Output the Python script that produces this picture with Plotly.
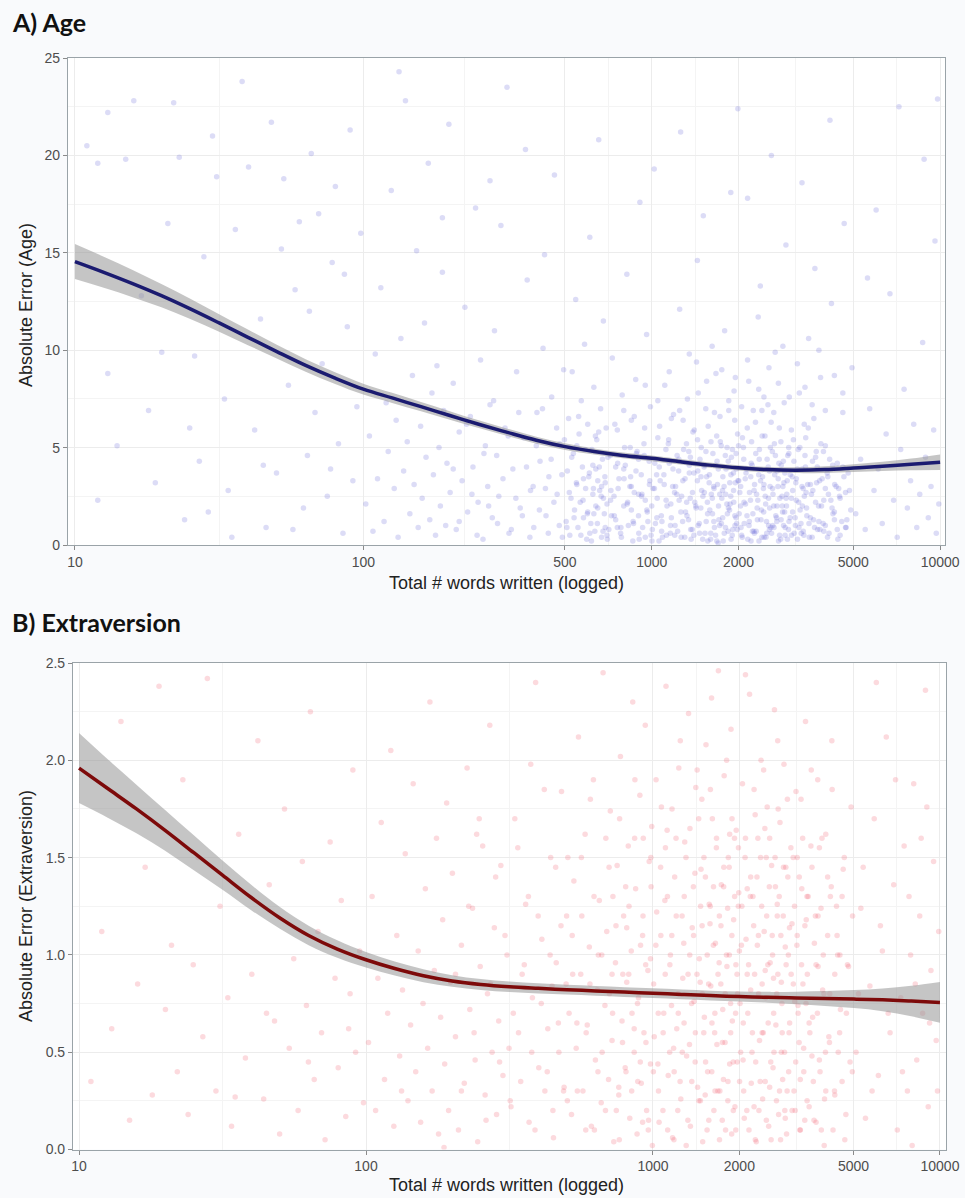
import numpy as np
import plotly.graph_objects as go

# ---------------- data ----------------
# smooth-curve grid (total words written)
curve_words = [10, 12.59, 15.85, 19.95, 25.12, 31.62, 39.81, 50.12, 63.1, 79.43, 100, 125.9, 158.5,
               199.5, 251.2, 316.2, 398.1, 501.2, 631, 794.3, 1000, 1259, 1585, 1995, 2512, 3162,
               3981, 5012, 6310, 7943, 10000]

age_fit = [14.55, 14.0, 13.42, 12.8, 12.12, 11.4, 10.66, 9.93, 9.22, 8.58, 8.0, 7.55, 7.1, 6.65,
           6.2, 5.78, 5.38, 5.05, 4.8, 4.6, 4.45, 4.27, 4.1, 3.96, 3.87, 3.84, 3.87, 3.95, 4.04,
           4.14, 4.25]
age_ci = [0.9, 0.8, 0.7, 0.6, 0.52, 0.45, 0.4, 0.35, 0.32, 0.3, 0.28, 0.26, 0.24, 0.22, 0.2, 0.19,
          0.18, 0.17, 0.16, 0.15, 0.15, 0.14, 0.14, 0.14, 0.14, 0.15, 0.17, 0.2, 0.24, 0.3, 0.4]

ext_fit = [1.96, 1.855, 1.75, 1.64, 1.525, 1.41, 1.295, 1.19, 1.1, 1.03, 0.975, 0.93, 0.893,
           0.866, 0.848, 0.836, 0.828, 0.821, 0.815, 0.809, 0.803, 0.797, 0.791, 0.786, 0.782,
           0.779, 0.776, 0.773, 0.769, 0.763, 0.756]
ext_ci = [0.18, 0.15, 0.125, 0.105, 0.09, 0.075, 0.065, 0.056, 0.05, 0.045, 0.04, 0.036, 0.033,
          0.03, 0.028, 0.027, 0.026, 0.025, 0.025, 0.025, 0.025, 0.025, 0.025, 0.026, 0.028, 0.032,
          0.038, 0.046, 0.058, 0.078, 0.105]

# scatter points (words, absolute error)
age_points = [
    (11,20.5),(12,19.6),(13,22.2),(15,19.8),(16,22.8),(13,8.8),(14,5.1),(12,2.3),(17,12.8),(18,6.9),
    (19,3.2),(21,16.5),(22,22.7),(23,19.9),(24,1.3),(26,9.7),(27,4.3),(28,14.8),(30,21.0),(31,18.9),
    (33,7.5),(34,2.8),(36,16.2),(38,23.8),(40,19.4),(42,5.9),(44,11.6),(46,0.9),(48,21.7),(50,3.7),
    (53,18.8),(55,8.2),(58,13.1),(60,16.6),(62,1.9),(64,4.6),(66,20.1),(68,6.8),(70,17.0),(72,9.3),
    (75,2.5),(78,14.5),(80,18.4),(82,5.2),(85,0.6),(88,11.2),(90,21.3),(92,3.3),(95,7.1),(98,16.0),
    (35,0.4),(57,0.8),(77,3.9),(25,6.0),(45,4.1),(65,12.0),(86,13.9),(20,9.9),(29,1.7),(52,15.2),
    (102,2.1),(105,5.6),(108,0.7),(110,9.8),(112,3.4),(115,13.2),(118,1.2),(120,7.3),(122,4.8),(125,18.2),
    (128,2.9),(130,6.4),(132,0.4),(135,10.6),(138,3.8),(140,22.8),(142,5.3),(145,1.6),(148,8.7),(150,3.1),
    (153,15.1),(155,0.9),(158,6.1),(160,2.4),(163,11.4),(165,4.5),(168,19.6),(170,1.3),(173,7.8),(175,3.6),
    (178,0.5),(180,9.2),(183,5.0),(185,2.0),(188,14.0),(190,6.9),(193,1.0),(195,4.2),(198,21.6),(200,2.7),
    (205,8.3),(210,0.8),(215,5.8),(220,3.3),(225,12.2),(230,1.7),(235,6.6),(240,4.0),(245,17.3),(250,2.2),
    (255,9.5),(260,0.3),(265,5.1),(270,3.0),(275,7.2),(280,1.4),(285,11.0),(290,4.6),(295,2.5),(300,16.4),
    (310,6.0),(320,0.6),(330,3.9),(340,8.9),(350,1.9),(360,5.5),(370,13.6),(380,2.8),(390,0.9),(400,6.8),
    (410,4.3),(420,10.1),(430,1.5),(440,3.5),(450,7.6),(460,19.0),(470,2.6),(480,5.2),(490,0.4),(495,9.0),
    (315,23.5),(365,20.3),(425,14.9),(188,16.8),(275,18.7),(133,24.3),
    (505,1.2),(510,3.8),(515,6.5),(520,0.5),(525,2.4),(530,8.9),(535,4.7),(540,1.8),(545,12.6),(550,3.1),
    (555,0.9),(560,5.7),(565,2.2),(570,7.4),(575,4.0),(580,1.4),(585,10.3),(590,2.9),(595,0.3),(600,6.2),
    (605,3.5),(610,15.8),(615,1.1),(620,4.9),(625,2.6),(630,8.1),(635,0.7),(640,3.9),(645,5.4),(650,1.9),
    (655,20.8),(660,2.8),(665,7.0),(670,0.4),(675,4.4),(680,11.5),(685,1.6),(690,3.2),(695,6.0),(700,2.1),
    (710,0.8),(720,4.6),(730,9.6),(740,2.5),(750,1.3),(760,5.9),(770,3.4),(780,0.6),(790,7.7),(800,2.0),
    (810,4.1),(820,13.9),(830,1.0),(840,3.0),(850,6.4),(860,0.2),(870,2.7),(880,8.5),(890,4.8),(900,1.5),
    (910,17.6),(920,3.6),(930,0.9),(940,5.2),(950,2.3),(960,10.8),(970,1.2),(980,4.3),(990,7.1),(995,0.5),
    (1010,2.9),(1030,1.1),(1050,5.5),(1070,3.3),(1090,0.4),(1110,8.2),(1130,2.0),(1150,4.2),(1170,1.4),(1190,6.7),
    (1210,3.0),(1230,0.7),(1250,12.1),(1270,2.5),(1290,4.9),(1310,1.7),(1330,7.5),(1350,3.7),(1370,0.3),(1390,5.8),
    (1410,2.2),(1430,9.4),(1450,1.0),(1470,4.4),(1490,2.8),(1510,16.9),(1530,0.6),(1550,3.5),(1570,6.1),(1590,1.8),
    (1610,2.6),(1630,4.7),(1650,0.9),(1670,8.8),(1690,3.1),(1710,1.3),(1730,5.3),(1750,2.4),(1770,0.2),(1790,11.0),
    (1810,3.9),(1830,1.6),(1850,6.9),(1870,2.1),(1890,4.5),(1910,0.8),(1930,7.9),(1950,3.2),(1970,1.1),(1990,22.4),
    (1020,19.3),(1440,14.6),(1880,18.1),(1260,21.2),(1620,10.2),
    (2020,2.7),(2050,0.5),(2080,5.0),(2110,3.4),(2140,1.5),(2170,8.4),(2200,2.3),(2230,4.1),(2260,0.7),(2290,6.3),
    (2320,1.9),(2350,3.6),(2380,13.3),(2410,0.4),(2440,2.9),(2470,5.6),(2500,1.2),(2530,7.2),(2560,3.8),(2590,0.9),
    (2620,4.8),(2650,2.0),(2680,9.9),(2710,1.4),(2740,3.0),(2770,6.0),(2800,0.3),(2830,2.5),(2860,4.3),(2890,1.7),
    (2920,15.4),(2950,3.3),(2980,0.8),(2150,17.8),(2600,20.0),(2340,11.7),
    (3050,2.4),(3100,5.4),(3150,1.0),(3200,3.9),(3250,7.8),(3300,0.6),(3350,2.9),(3400,4.6),(3450,1.5),(3500,10.6),
    (3550,3.1),(3600,0.4),(3650,6.5),(3700,2.2),(3750,4.0),(3800,1.2),(3850,8.6),(3900,3.4),(3950,0.7),(4000,5.1),
    (4100,2.6),(4200,12.4),(4300,1.3),(4400,4.2),(4500,0.5),(4600,6.8),(4700,2.7),(4800,3.7),(4900,1.8),(4950,9.1),
    (3320,18.6),(4150,21.8),(3680,14.2),(4650,16.5),
    (5100,1.6),(5300,4.4),(5500,0.8),(5700,7.0),(5900,2.8),(6100,3.9),(6300,1.1),(6500,5.7),(6700,12.9),(6900,2.3),
    (7100,0.4),(7300,4.9),(7500,8.0),(7700,1.9),(7900,3.3),(8100,6.2),(8300,0.9),(8500,2.6),(8700,10.4),(8900,4.5),
    (9100,1.4),(9300,3.0),(9500,5.9),(9700,0.6),(9900,2.1),(6000,17.2),(7200,22.5),(8800,19.8),(9600,15.6),(5600,13.7),
    (9800,22.9),
    (720,2.3),(760,0.9),(800,3.9),(850,1.8),(900,4.4),(950,0.4),(1000,2.0),(1040,3.6),(1080,1.5),(1120,4.9),
    (1160,0.6),(1200,2.7),(1240,3.8),(1280,1.2),(1320,5.2),(1360,2.4),(1400,0.5),(1440,3.3),(1480,1.9),(1520,4.0),
    (1560,2.2),(1600,0.3),(1640,3.0),(1680,5.6),(1720,1.0),(1760,2.8),(1800,4.6),(1840,0.7),(1880,2.5),(1920,3.7),
    (1960,1.4),(2000,5.1),(2040,0.9),(2090,2.2),(2130,3.9),(2180,1.2),(2220,5.3),(2270,0.6),(2310,2.6),(2360,4.4),
    (2400,1.8),(2450,3.1),(2490,0.4),(2540,2.4),(2580,5.0),(2630,1.0),(2670,3.6),(2720,2.0),(2760,4.2),(2810,1.3),
    (2850,3.0),(2900,0.5),(2940,2.6),(2990,4.7),(3080,1.7),(3160,3.2),(3240,0.9),(3330,2.0),(3420,5.5),(3510,1.1),
    (3620,2.8),(3720,4.8),(3830,0.8),(3950,2.3),(4080,3.5),(4250,1.6),(4450,2.9),(4700,0.9),(1170,6.5),(1540,7.0),
    (1940,6.4),(2410,6.9),(2880,7.3),(870,6.6),(3380,6.2),(1060,0.2),(1700,0.1),(2210,0.2),(630,1.6),(580,3.4),
    (680,2.4),(1350,4.1),(1990,3.3),(2560,0.8),(3050,5.9),
    (610,0.6),(625,4.1),(640,2.0),(655,5.8),(670,3.0),(690,0.9),(705,4.5),(725,1.5),(745,6.2),(765,2.9),
    (785,0.4),(805,5.0),(825,2.2),(845,3.5),(865,1.1),(885,4.7),(905,0.3),(925,2.6),(945,6.0),(965,1.7),
    (985,3.3),(1005,0.8),(1025,4.2),(1045,2.4),(1065,6.1),(1085,1.2),(1105,3.1),(1125,0.5),(1145,5.4),(1165,2.1),
    (1185,3.9),(1205,1.0),(1225,4.6),(1245,2.3),(1265,0.4),(1285,6.4),(1305,3.4),(1325,1.5),(1345,4.8),(1365,0.8),
    (1385,2.7),(1405,5.9),(1425,1.9),(1445,3.8),(1465,0.6),(1485,5.0),(1505,2.5),(1525,4.1),(1545,1.2),(1565,0.2),
    (1585,3.6),(1605,5.3),(1625,1.6),(1645,2.9),(1665,0.5),(1685,4.3),(1705,2.0),(1725,6.6),(1745,1.1),(1765,3.5),
    (1785,0.6),(1805,2.6),(1825,5.0),(1845,1.9),(1865,3.2),(1885,0.3),(1905,4.9),(1925,2.2),(1945,1.0),(1965,3.9),
    (1985,5.7),(2010,1.6),(2035,3.0),(2060,0.4),(2085,4.4),(2115,2.1),(2145,6.0),(2175,1.0),(2205,3.5),(2235,0.7),
    (2265,2.8),(2295,4.7),(2325,1.3),(2355,0.2),(2385,3.3),(2415,5.6),(2445,1.7),(2475,2.5),(2505,0.6),(2535,4.0),
    (2565,1.9),(2595,6.3),(2625,2.9),(2655,0.9),(2685,4.6),(2715,1.2),(2745,3.4),(2775,0.5),(2805,5.3),(2835,2.0),
    (2865,1.0),(2895,3.7),(2925,2.4),(2955,0.3),(2985,5.0),(3020,1.4),(3070,3.5),(3120,0.6),(3170,2.3),(3220,4.9),
    (3270,1.8),(3320,3.0),(3370,0.5),(3430,2.7),(3490,6.0),(3550,1.4),(3610,4.3),(3670,0.9),(3730,3.2),(3790,2.0),
    (3860,5.2),(3930,1.1),(4000,2.9),(4070,0.4),(4140,4.4),(4220,1.9),(4310,3.1),(4400,0.8),(4500,2.4),(4600,4.0),
    (4750,1.3),(4850,2.8),(550,5.1),(600,1.7),(650,3.3),(700,0.5),(750,4.0),(800,6.9),(850,3.0),(900,2.6),
    (950,8.2),(1050,7.4),(1150,8.9),(1250,6.9),(1350,9.8),(1450,7.8),(1550,8.4),(1650,6.8),(1750,9.0),(1850,7.4),
    (1950,8.6),(2050,7.1),(2150,9.5),(2250,6.9),(2350,8.0),(2450,7.6),(2550,9.1),(2650,6.8),(2750,8.3),(2850,10.2),
    (3000,7.6),(3200,9.3),(3400,8.1),(3600,7.2),(3800,10.0),(4000,6.9),(4300,8.7),(4600,7.8),
    (702,0.3),(722,2.8),(742,1.5),(762,4.2),(782,0.9),(802,3.4),(822,2.1),(842,5.0),(862,1.2),(882,3.8),
    (902,0.6),(922,2.5),(942,4.6),(962,1.8),(982,3.1),(1002,0.2),(1022,2.9),(1042,1.4),(1062,4.0),(1082,0.7),
    (1102,3.6),(1122,2.3),(1142,5.2),(1162,1.0),(1182,3.0),(1202,0.5),(1222,2.6),(1242,4.4),(1262,1.7),(1282,3.3),
    (1302,0.4),(1322,2.2),(1342,1.3),(1362,4.5),(1382,0.8),(1402,3.7),(1422,2.0),(1442,5.4),(1462,1.1),(1482,3.5),
    (1502,0.3),(1522,2.7),(1542,4.8),(1562,1.6),(1582,3.2),(1602,0.6),(1622,2.4),(1642,1.2),(1662,4.1),(1682,0.2),
    (1702,3.9),(1722,2.6),(1742,5.1),(1762,1.4),(1782,3.0),(1802,0.9),(1822,2.1),(1842,4.3),(1862,1.8),(1882,3.6),
    (1902,0.5),(1922,2.8),(1942,1.5),(1962,4.7),(1982,0.8),(2003,3.3),(2033,2.0),(2063,5.5),(2093,1.1),(2123,3.7),
    (2153,0.3),(2183,2.7),(2213,4.2),(2243,1.6),(2273,3.1),(2303,0.7),(2333,2.3),(2363,4.9),(2393,1.3),(2423,3.5),
    (2453,0.4),(2483,2.1),(2513,4.4),(2543,1.0),(2573,3.0),(2603,0.6),(2633,2.6),(2663,5.2),(2693,1.5),(2723,3.8),
    (2753,0.2),(2783,2.4),(2813,4.1),(2843,1.7),(2873,3.2),(2903,0.9),(2933,2.0),(2963,4.6),(2993,1.2),(3023,3.6),
    (3053,0.5),(3083,2.8),(3113,4.3),(3143,1.4),(3173,3.4),(3203,0.3),(3233,2.2),(3263,5.0),(3293,1.1),(3323,3.9),
    (3353,0.7),(3383,2.5),(3413,4.0),(3443,1.9),(3473,3.1),(3520,0.4),(3580,2.6),(3640,1.3),(3700,4.5),(3760,0.8),
    (3820,3.3),(3880,2.0),(3940,4.8),(4000,1.0),(4060,3.7),(4120,0.6),(4180,2.3),(4240,4.1),(4300,1.7),(4360,3.0),
    (4420,0.3),(4480,2.5),(4560,1.2),(4640,3.5),(4720,0.9),
    (205,3.9),(215,1.2),(228,6.2),(238,2.6),(248,0.5),(262,4.7),(272,2.0),(283,7.4),(292,1.1),(305,3.4),
    (318,5.6),(326,0.8),(338,2.4),(346,6.8),(356,1.5),(368,4.0),(378,0.4),(388,3.0),(398,5.1),(408,1.8),
    (418,7.0),(428,2.9),(438,0.6),(448,4.4),(458,2.2),(468,6.0),(478,1.0),(488,3.6),(498,5.4),(508,0.9),
    (518,2.7),(528,4.5),(538,1.4),(548,3.2),(558,6.6),(568,0.5),(578,2.3),(588,4.9),(598,1.6),(608,3.7),
    (618,0.2),(628,2.9),(638,5.6),(648,1.1),(658,4.0),(668,2.5),(678,0.7),(688,3.5),
]

ext_points = [
    (11,0.35),(12,1.12),(13,0.62),(14,2.2),(15,0.15),(16,0.85),(17,1.45),(18,0.28),(19,2.38),(20,0.72),
    (21,1.05),(22,0.4),(23,1.9),(24,0.18),(25,0.95),(27,0.58),(28,2.42),(30,0.3),(31,1.25),(33,0.78),
    (34,0.12),(36,1.62),(38,0.47),(40,0.9),(42,2.1),(44,0.26),(46,1.36),(48,0.66),(50,0.08),(52,1.75),
    (54,0.52),(56,0.98),(58,0.2),(60,1.48),(62,0.74),(64,2.25),(66,0.36),(68,1.12),(70,0.6),(72,0.05),
    (75,1.58),(78,0.88),(80,0.42),(82,1.28),(85,0.17),(88,0.8),(90,1.95),(92,0.5),(95,1.02),(98,0.24),
    (45,0.7),(63,0.45),(87,0.62),(35,0.27),(26,1.5),
    (102,0.55),(105,1.3),(108,0.2),(110,0.88),(113,1.68),(116,0.36),(119,0.7),(122,2.05),(125,0.12),(128,1.1),
    (131,0.48),(134,0.82),(137,1.52),(140,0.25),(143,0.64),(146,1.88),(149,0.4),(152,1.02),(155,0.14),(158,0.75),
    (161,1.34),(164,0.52),(167,2.3),(170,0.3),(173,0.92),(176,1.6),(179,0.08),(182,0.68),(185,1.18),(188,0.44),
    (191,1.78),(194,0.2),(197,0.86),(200,1.42),(205,0.58),(210,0.1),(215,1.05),(220,0.34),(225,1.96),(230,0.72),
    (235,1.24),(240,0.46),(245,0.04),(250,0.94),(255,1.56),(260,0.28),(265,0.8),(270,2.18),(275,0.5),(280,1.14),
    (285,0.18),(290,0.66),(295,1.46),(300,0.38),(310,1.0),(320,0.22),(330,1.7),(340,0.6),(350,0.9),(360,1.26),
    (370,0.14),(380,0.78),(390,2.4),(400,0.42),(410,1.08),(420,0.3),(430,0.62),(440,1.5),(450,0.06),(460,0.96),
    (470,0.5),(480,1.84),(490,0.32),(500,1.2),(133,0.3),(187,0.01),(243,1.62),(315,0.52),(445,0.84),(375,1.98),
    (510,0.7),(520,0.18),(530,1.38),(540,0.52),(550,2.12),(560,0.9),(570,0.3),(580,1.62),(590,0.64),(600,1.04),
    (610,0.12),(620,1.9),(630,0.46),(640,0.82),(650,1.28),(660,0.24),(670,2.45),(680,0.74),(690,1.12),(700,0.36),
    (710,1.74),(720,0.56),(730,0.04),(740,0.96),(750,1.46),(760,0.28),(770,2.02),(780,0.66),(790,1.2),(800,0.42),
    (810,0.86),(820,1.56),(830,0.16),(840,1.02),(850,2.3),(860,0.5),(870,1.34),(880,0.08),(890,0.78),(900,1.82),
    (910,0.34),(920,1.1),(930,0.6),(940,2.18),(950,0.2),(960,0.92),(970,1.48),(980,0.44),(990,1.66),(995,0.02),
    (1010,0.58),(1030,1.22),(1050,0.14),(1070,1.76),(1090,0.7),(1110,2.38),(1130,0.38),(1150,1.0),(1170,0.06),(1190,1.4),
    (1210,0.62),(1230,1.96),(1250,0.26),(1270,0.88),(1290,1.58),(1310,0.48),(1330,2.24),(1350,0.12),(1370,1.14),(1390,0.76),
    (1410,1.86),(1430,0.32),(1450,0.98),(1470,1.44),(1490,0.04),(1510,0.68),(1530,2.08),(1550,0.4),(1570,1.26),(1590,0.84),
    (1610,1.7),(1630,0.2),(1650,1.06),(1670,0.54),(1690,2.46),(1710,0.3),(1730,1.36),(1750,0.72),(1770,1.92),(1790,0.1),
    (1810,0.94),(1830,1.5),(1850,0.44),(1870,2.16),(1890,0.66),(1910,1.18),(1930,0.22),(1950,1.64),(1970,0.8),(1990,1.32),
    (2020,0.5),(2050,1.88),(2080,0.16),(2110,1.08),(2140,0.7),(2170,2.34),(2200,0.34),(2230,1.3),(2260,0.9),(2290,0.04),
    (2320,1.6),(2350,0.56),(2380,2.0),(2410,0.26),(2440,1.12),(2470,0.78),(2500,1.76),(2530,0.12),(2560,0.96),(2590,1.46),
    (2620,0.42),(2650,2.26),(2680,0.64),(2710,1.2),(2740,0.18),(2770,1.68),(2800,0.86),(2830,0.36),(2860,1.98),(2890,1.04),
    (2920,0.08),(2950,1.4),(2980,0.6),
    (3050,1.16),(3100,0.3),(3150,1.84),(3200,0.74),(3250,0.1),(3300,1.34),(3350,0.52),(3400,2.2),(3450,0.9),(3500,0.22),
    (3550,1.56),(3600,0.68),(3650,1.06),(3700,0.14),(3750,1.9),(3800,0.46),(3850,1.24),(3900,0.82),(3950,0.02),(4000,1.62),
    (4100,0.58),(4200,2.1),(4300,0.28),(4400,1.0),(4500,0.72),(4600,1.44),(4700,0.18),(4800,0.94),(4900,1.76),(4950,0.4),
    (720,0.9),(760,0.32),(810,1.14),(860,0.62),(920,0.14),(980,0.98),(1040,0.44),(1100,1.28),(1160,0.74),(1220,0.2),
    (1280,1.06),(1340,0.54),(1400,1.42),(1460,0.86),(1520,0.28),(1580,1.16),(1640,0.6),(1700,0.96),(1760,0.36),(1820,1.24),
    (1880,0.08),(1940,0.7),(2000,1.02),(2060,0.46),(2130,1.34),(2190,0.82),(2250,0.22),(2330,1.1),(2400,0.6),(2480,1.5),
    (2550,0.32),(2630,0.88),(2710,1.26),(2800,0.5),(2890,0.16),(2990,1.14),(3120,0.76),(3260,0.36),(3420,1.18),(3580,0.48),
    (3760,0.94),(3960,0.26),(4150,1.3),(1120,1.64),(1480,1.8),(1850,1.62),(2270,1.72),(2720,2.1),(3180,1.5),(1600,2.32),
    (1180,0.52),(2100,2.44),(2460,0.92),
    (5100,0.5),(5300,1.24),(5500,0.16),(5700,0.84),(5900,1.7),(6100,0.38),(6300,1.02),(6500,2.12),(6700,0.6),(6900,1.36),
    (7100,0.1),(7300,0.78),(7500,1.56),(7700,0.3),(7900,1.0),(8100,1.88),(8300,0.46),(8500,1.2),(8700,0.7),(8900,2.36),
    (9100,0.22),(9300,0.92),(9500,1.48),(9700,0.56),(9900,1.12),(6000,2.4),(8000,0.02),(9000,1.76),
    (505,1.5),(525,0.9),(545,0.3),(565,1.2),(585,0.6),(605,1.8),(625,0.1),(645,1.0),(665,0.5),(685,1.6),
    (705,0.8),(725,1.3),(745,0.2),(765,1.7),(785,0.9),(805,0.4),(825,1.25),(845,0.7),(865,1.9),(885,0.35),
    (905,1.05),(925,1.6),(945,0.55),(965,0.15),(985,1.35),(1005,0.85),(1025,1.9),(1045,0.3),(1065,1.1),(1085,0.6),
    (1105,1.55),(1125,0.1),(1145,0.95),(1165,1.75),(1185,0.4),(1205,1.2),(1225,0.7),(1245,2.1),(1265,0.5),(1285,1.3),
    (1305,0.02),(1325,0.9),(1345,1.65),(1365,0.35),(1385,1.1),(1405,0.6),(1425,1.95),(1445,0.25),(1465,1.25),(1485,0.8),
    (1505,1.5),(1525,0.45),(1545,1.0),(1565,0.15),(1585,1.85),(1605,0.65),(1625,1.35),(1645,0.3),(1665,1.6),(1685,0.9),
    (1705,0.05),(1725,1.15),(1745,0.55),(1765,1.45),(1785,0.8),(1805,2.0),(1825,0.35),(1845,1.0),(1865,0.6),(1885,1.7),
    (1905,0.2),(1925,1.3),(1945,0.95),(1965,0.45),(1985,1.55),(2010,0.75),(2040,1.25),(2070,0.3),(2100,1.6),(2130,0.9),
    (2160,0.1),(2190,1.4),(2220,0.6),(2250,1.85),(2280,0.45),(2310,1.05),(2340,0.2),(2370,1.5),(2400,0.85),(2430,1.95),
    (2460,0.35),(2490,1.2),(2520,0.65),(2550,1.6),(2580,0.05),(2610,1.0),(2640,0.5),(2670,1.35),(2700,0.8),(2730,1.75),
    (2760,0.3),(2790,1.1),(2820,0.6),(2850,1.45),(2880,0.2),(2910,0.95),(2940,1.8),(2970,0.4),(3030,0.9),(3080,1.5),
    (3130,0.2),(3180,1.1),(3230,0.55),(3280,1.8),(3330,0.85),(3380,0.15),(3440,1.3),(3500,0.65),(3560,1.95),(3620,0.35),
    (3680,1.2),(3740,0.7),(3800,1.55),(3860,0.1),(3920,1.0),(3990,0.5),(4060,1.4),(4130,0.8),(4210,1.85),(4290,0.3),
    (4380,1.1),(4470,0.6),(4560,1.3),(4660,0.05),(4760,0.95),(4860,0.45),(4960,1.2),(5200,0.8),(5400,1.45),(5800,0.3),
    (6200,1.15),(6600,0.7),(7000,1.9),(7400,0.4),(7800,1.3),(8200,0.85),(8600,1.6),(9200,0.65),(9800,0.3),
    (503,0.25),(523,1.1),(543,0.65),(563,1.5),(583,0.1),(603,0.85),(623,1.3),(643,0.4),(663,1.0),(683,0.2),
    (703,1.45),(723,0.7),(743,1.15),(763,0.05),(783,0.55),(803,1.35),(823,0.9),(843,0.3),(863,1.6),(883,0.75),
    (903,0.45),(923,1.2),(943,0.95),(963,0.1),(983,1.5),(1003,0.4),(1023,1.05),(1043,0.7),(1063,1.45),(1083,0.2),
    (1103,0.9),(1123,1.3),(1143,0.5),(1163,1.1),(1183,0.05),(1203,1.6),(1223,0.8),(1243,0.35),(1263,1.2),(1283,0.65),
    (1303,1.5),(1323,0.15),(1343,1.0),(1363,0.75),(1383,1.35),(1403,0.45),(1423,0.9),(1443,1.7),(1463,0.25),(1483,1.15),
    (1503,0.6),(1523,1.4),(1543,0.1),(1563,0.85),(1583,1.25),(1603,0.4),(1623,1.05),(1643,0.7),(1663,1.55),(1683,0.3),
    (1703,1.2),(1723,0.85),(1743,0.15),(1763,1.35),(1783,0.55),(1803,1.0),(1823,0.25),(1843,1.45),(1863,0.75),(1883,1.1),
    (1903,0.45),(1923,1.6),(1943,0.1),(1963,0.9),(1983,1.25),(2003,0.35),(2033,1.05),(2063,0.65),(2093,1.5),(2123,0.2),
    (2153,0.95),(2183,1.3),(2213,0.5),(2243,1.15),(2273,0.05),(2303,1.4),(2333,0.8),(2363,0.35),(2393,1.25),(2423,0.6),
    (2453,1.65),(2483,0.15),(2513,0.95),(2543,1.35),(2573,0.45),(2603,1.1),(2633,0.7),(2663,1.5),(2693,0.25),(2723,0.9),
    (2753,1.3),(2783,0.05),(2813,0.75),(2843,1.2),(2873,0.5),(2903,1.45),(2933,0.3),(2963,1.0),(2993,0.65),(3023,1.55),
    (3053,0.2),(3083,0.85),(3113,1.25),(3143,0.45),(3173,1.05),(3203,0.7),(3233,1.4),(3263,0.1),(3293,0.95),(3323,1.6),
    (3353,0.4),(3383,1.15),(3413,0.75),(3443,0.25),(3473,1.3),(3520,0.6),(3580,1.45),(3640,0.15),(3700,0.95),(3760,1.2),
    (3820,0.4),(3880,1.6),(3940,0.8),(4000,0.3),(4060,1.1),(4120,0.55),(4180,1.35),(4240,0.1),(4300,0.9),(4360,1.25),
    (4420,0.5),(4480,1.0),(4560,0.35),(4640,1.5),(4720,0.7),
    (205,0.9),(215,0.3),(228,1.25),(238,0.6),(248,1.7),(262,0.15),(272,0.85),(283,1.4),(292,0.45),(305,1.1),
    (318,0.25),(326,0.7),(338,1.55),(346,0.35),(356,0.95),(368,1.3),(378,0.5),(388,0.1),(398,1.2),(408,0.75),
    (418,1.85),(428,0.4),(438,1.0),(448,0.2),(458,1.45),(468,0.65),(478,1.15),(488,0.3),(498,0.85),
]

age_ticks = [10, 100, 500, 1000, 2000, 5000, 10000]
ext_ticks = [10, 100, 1000, 2000, 5000, 10000]
age_yticks = [0, 5, 10, 15, 20, 25]
ext_yticks = [0.0, 0.5, 1.0, 1.5, 2.0, 2.5]
ext_yticklabels = ["0.0", "0.5", "1.0", "1.5", "2.0", "2.5"]

# ---------------- figure ----------------
W, H = 965, 1198

def px(X):
    return X / W

def py(Y):
    return 1 - Y / H

fig = go.Figure()

def add_panel(points, fit, ci, xa, ya, pcol, lcol):
    xs = [p[0] for p in points]
    ys = [p[1] for p in points]
    fig.add_trace(go.Scatter(x=xs, y=ys, mode="markers", xaxis=xa, yaxis=ya,
                             marker=dict(size=5.5, color=pcol, line=dict(width=0)),
                             hoverinfo="skip", showlegend=False, cliponaxis=True))
    upper = [f + c for f, c in zip(fit, ci)]
    lower = [f - c for f, c in zip(fit, ci)]
    fig.add_trace(go.Scatter(x=curve_words, y=upper, mode="lines", xaxis=xa, yaxis=ya,
                             line=dict(width=0, shape="spline", color="rgba(0,0,0,0)"),
                             hoverinfo="skip", showlegend=False))
    fig.add_trace(go.Scatter(x=curve_words, y=lower, mode="lines", xaxis=xa, yaxis=ya,
                             fill="tonexty", fillcolor="rgba(150,150,150,0.55)",
                             line=dict(width=0, shape="spline", color="rgba(0,0,0,0)"),
                             hoverinfo="skip", showlegend=False))
    fig.add_trace(go.Scatter(x=curve_words, y=fit, mode="lines", xaxis=xa, yaxis=ya,
                             line=dict(width=3.5, color=lcol, shape="spline"),
                             hoverinfo="skip", showlegend=False))

add_panel(age_points, age_fit, age_ci, "x", "y", "rgba(95,95,215,0.22)", "#1b1b70")
add_panel(ext_points, ext_fit, ext_ci, "x2", "y2", "rgba(240,85,105,0.22)", "#7d0a0a")

tickfont = dict(family="Liberation Sans, Arial, sans-serif", size=14, color="#4d4d4d")
axis_common = dict(showline=True, linecolor="#9aa3a8", linewidth=1.2, mirror=True,
                   ticks="outside", ticklen=4, tickcolor="#8a8a8a", tickwidth=1.2,
                   showgrid=True, gridcolor="#ececec", gridwidth=1, zeroline=False,
                   tickfont=tickfont, ticklabeloverflow="allow", automargin=False)

fig.update_layout(
    width=W, height=H,
    margin=dict(l=0, r=0, t=0, b=0, autoexpand=False),
    paper_bgcolor="#f9fafc", plot_bgcolor="#ffffff",
    xaxis=dict(domain=[px(68), px(945)], anchor="y", type="log",
               range=[0.976, 4.017], tickvals=age_ticks, ticktext=[str(t) for t in age_ticks],
               minor=dict(tickvals=[31.6, 223.6, 707, 1414, 3162, 7071], showgrid=True,
                          gridcolor="#f4f4f4", ticklen=0), **axis_common),
    yaxis=dict(domain=[py(545), py(58)], anchor="x", range=[0, 25],
               tickvals=age_yticks,
               minor=dict(dtick=2.5, showgrid=True, gridcolor="#f4f4f4", ticklen=0),
               **axis_common),
    xaxis2=dict(domain=[px(73), px(946)], anchor="y2", type="log",
                range=[0.979, 4.021], tickvals=ext_ticks, ticktext=[str(t) for t in ext_ticks],
                minor=dict(tickvals=[31.6, 316, 1414, 3162, 7071], showgrid=True,
                           gridcolor="#f4f4f4", ticklen=0), **axis_common),
    yaxis2=dict(domain=[py(1149.5), py(663)], anchor="x2", range=[0, 2.5],
                tickvals=ext_yticks, ticktext=ext_yticklabels,
                minor=dict(dtick=0.25, showgrid=True, gridcolor="#f4f4f4", ticklen=0),
                **axis_common),
)

title_font = dict(family="Lato, Open Sans, sans-serif", size=25, color="#111111")
label_font = dict(family="Liberation Sans, Arial, sans-serif", size=18, color="#222222")
annots = [
    dict(text="<b>A) Age</b>", x=px(10), y=py(22), xanchor="left", yanchor="middle", font=title_font),
    dict(text="<b>B) Extraversion</b>", x=px(10), y=py(622), xanchor="left", yanchor="middle", font=title_font),
    dict(text="Total # words written (logged)", x=px(507), y=py(583), xanchor="center", yanchor="middle", font=label_font),
    dict(text="Total # words written (logged)", x=px(507), y=py(1185), xanchor="center", yanchor="middle", font=label_font),
    dict(text="Absolute Error (Age)", x=px(26), y=py(305), xanchor="center", yanchor="middle", textangle=-90, font=label_font),
    dict(text="Absolute Error (Extraversion)", x=px(26), y=py(906), xanchor="center", yanchor="middle", textangle=-90, font=label_font),
]
for a in annots:
    fig.add_annotation(xref="paper", yref="paper", showarrow=False, **a)

# drop the default 8px page margin so the figure fills the 965x1198 window exactly
fig.write_html("out.html", config={"displayModeBar": False},
               post_script="document.body.style.margin='0px';")
